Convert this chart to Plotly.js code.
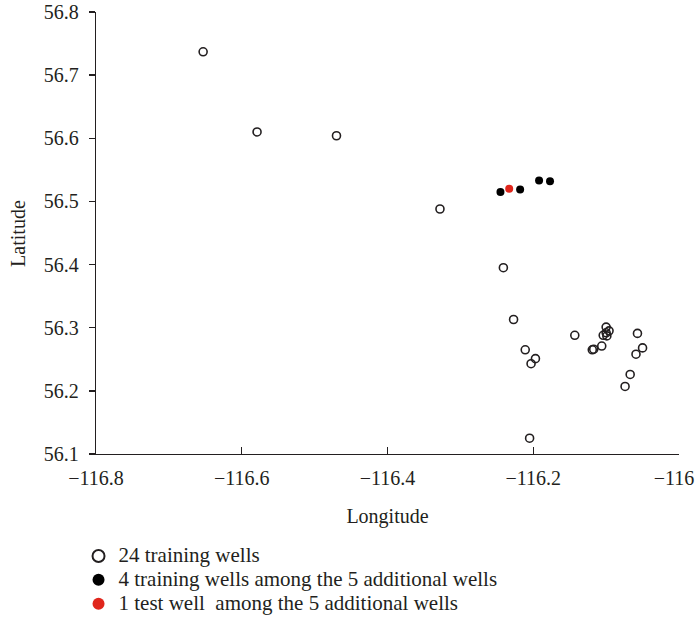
<!DOCTYPE html>
<html>
<head>
<meta charset="utf-8">
<script src="https://cdn.plot.ly/plotly-3.0.1.min.js"></script>
<style>
  html, body { margin: 0; padding: 0; background: #fff; }
  #chart { width: 695px; height: 624px; }
</style>
</head>
<body>
<div id="chart"></div>
<script>
// Well locations (longitude, latitude)
const trainLon = [-116.653, -116.579, -116.470, -116.328, -116.241, -116.227, -116.211, -116.197,
                  -116.203, -116.205, -116.143, -116.119, -116.117, -116.106, -116.100, -116.096,
                  -116.104, -116.099, -116.100, -116.057, -116.050, -116.059, -116.067, -116.074];
const trainLat = [56.737, 56.610, 56.604, 56.488, 56.395, 56.313, 56.265, 56.251,
                  56.243, 56.125, 56.288, 56.265, 56.266, 56.271, 56.301, 56.295,
                  56.288, 56.287, 56.292, 56.291, 56.268, 56.258, 56.226, 56.207];

const addTrainLon = [-116.245, -116.218, -116.192, -116.177];
const addTrainLat = [56.515, 56.519, 56.533, 56.532];

const testLon = [-116.233];
const testLat = [56.520];

const seriesNames = [
  '24 training wells',
  '4 training wells among the 5 additional wells',
  '1 test well  among the 5 additional wells'
];

const xTicks = [-116.8, -116.6, -116.4, -116.2, -116];
// the last label carries an en space so it stays inside the page edge
const xTickText = ['\u2212116.8', '\u2212116.6', '\u2212116.4', '\u2212116.2', '\u2212116\u2002'];
const yTicks = [56.1, 56.2, 56.3, 56.4, 56.5, 56.6, 56.7, 56.8];

const xTitle = 'Longitude';
const yTitle = 'Latitude';

const ink = '#231f20';
const serif = '"Liberation Serif", "DejaVu Serif", serif';

// Legend labels are set a little larger than the legend's row pitch
const legendLabel = s => '<span style="font-size:21px">' + s + '</span>';

const traces = [
  {
    x: trainLon, y: trainLat, name: legendLabel(seriesNames[0]), type: 'scatter', mode: 'markers',
    marker: { symbol: 'circle-open', size: 8, color: ink, line: { width: 1.6, color: ink } }
  },
  {
    x: addTrainLon, y: addTrainLat, name: legendLabel(seriesNames[1]), type: 'scatter', mode: 'markers',
    marker: { symbol: 'circle', size: 8, color: '#000000' }
  },
  {
    x: testLon, y: testLat, name: legendLabel(seriesNames[2]), type: 'scatter', mode: 'markers',
    marker: { symbol: 'circle', size: 8, color: '#e0261c' }
  }
];

const layout = {
  width: 695, height: 624,
  margin: { l: 96, r: 16, t: 12, b: 170, autoexpand: false },
  paper_bgcolor: '#ffffff', plot_bgcolor: '#ffffff',
  font: { family: serif, size: 20, color: ink },
  showlegend: true,
  legend: {
    xref: 'container', yref: 'container',
    x: 0.113, xanchor: 'left', y: 0.136, yanchor: 'top',
    orientation: 'v', font: { family: serif, size: 16, color: ink },
    bgcolor: 'rgba(0,0,0,0)', tracegroupgap: 0, itemsizing: 'constant'
  },
  xaxis: {
    range: [-116.8, -116], tickvals: xTicks, ticktext: xTickText,
    showgrid: false, zeroline: false, automargin: true,
    showline: true, linecolor: ink, linewidth: 1.3,
    ticks: 'inside', ticklen: 7, tickwidth: 1.3, tickcolor: ink, tickangle: 0,
    ticklabeloverflow: 'allow',
    ticklabelstandoff: 6, tickfont: { family: serif, size: 20, color: ink },
    title: { text: xTitle, font: { family: serif, size: 20, color: ink }, standoff: 20 }
  },
  yaxis: {
    range: [56.1, 56.8], tickvals: yTicks,
    showgrid: false, zeroline: false, automargin: true,
    showline: true, linecolor: ink, linewidth: 1.3,
    ticks: 'outside', ticklen: 6, tickwidth: 1.3, tickcolor: ink,
    ticklabelstandoff: 6, tickfont: { family: serif, size: 20, color: ink }
  },
  // y-axis title, placed to the left of the tick labels
  annotations: [
    {
      text: yTitle, xref: 'paper', yref: 'paper',
      x: -0.134, y: 0.5, xanchor: 'center', yanchor: 'middle',
      textangle: -90, showarrow: false,
      font: { family: serif, size: 20, color: ink }
    }
  ]
};

Plotly.newPlot('chart', traces, layout, { displayModeBar: false, staticPlot: true });
</script>
</body>
</html>
